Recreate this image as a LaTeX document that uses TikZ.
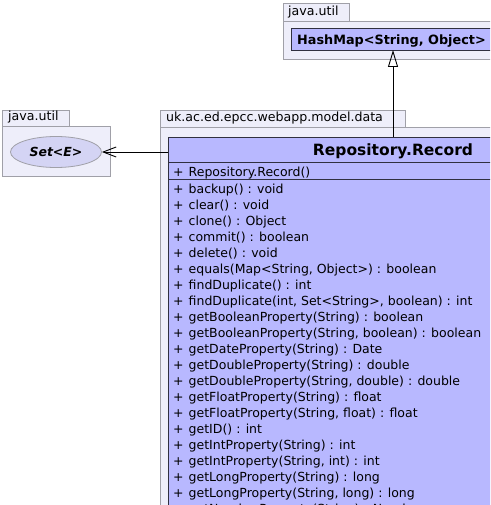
\documentclass[tikz,border=0pt]{standalone}
\usepackage{fontspec}
\setmainfont{DejaVu Sans}
\usetikzlibrary{arrows.meta,shapes.geometric}
\definecolor{pkgfill}{HTML}{EEEEFA}
\definecolor{pkgdraw}{HTML}{A0A0A8}
\definecolor{clsfill}{HTML}{B8B8FF}
\definecolor{clsdraw}{HTML}{303040}
\definecolor{ellfill}{HTML}{D4D4F4}
\tikzset{
  pkg/.style={fill=pkgfill,draw=pkgdraw,line width=0.8pt},
  cls/.style={fill=clsfill,draw=clsdraw,line width=0.8pt},
  pkglabel/.style={anchor=base west,inner sep=0pt,font=\fontsize{12.6}{15}\selectfont},
  member/.style={anchor=base west,inner sep=0pt,font=\fontsize{12.5}{15}\selectfont},
  conn/.style={line width=0.9pt,draw=black}
}
\newcommand{\mbr}[1]{\makebox[15.5pt][l]{+}#1}
\begin{document}
\begin{tikzpicture}[x=1pt,y=-1pt]
\useasboundingbox (0,0) rectangle (490,505);
\clip (0,0) rectangle (490,505);
\fill[white] (0,0) rectangle (490,505);
% top package java.util
\draw[pkg] (283,3) rectangle (349,21);
\draw[pkg] (283,21) rectangle (520,59);
\node[pkglabel] (tabA) at (288,16) {java.util};
\draw[cls] (291,28) rectangle (520,50);
\node[anchor=base west,inner sep=0pt,font=\bfseries\fontsize{12.8}{15}\selectfont] (hashmap) at (297,45) {HashMap<String, Object>};
\coordinate (hmb) at (393,50);
% left package java.util
\draw[pkg] (2,110) rectangle (69,126);
\draw[pkg] (2,126) rectangle (110,176);
\node[pkglabel] (tabB) at (8,121) {java.util};
\node[ellipse,draw=pkgdraw,fill=ellfill,line width=0.8pt,minimum width=91pt,minimum height=31pt,inner sep=0pt,font=\bfseries\itshape\fontsize{12.5}{14}\selectfont] (set) at (56,152) {Set<E>};
% main package
\draw[pkg] (160,110) rectangle (405,127);
\draw[pkg] (160,127) rectangle (520,520);
\node[pkglabel] (tabC) at (166,122) {uk.ac.ed.epcc.webapp.model.data};
% Record class
\draw[cls] (168,137) rectangle (620,530);
\draw[clsdraw,line width=0.8pt] (168,162) -- (620,162);
\draw[clsdraw,line width=0.8pt] (168,179) -- (620,179);
\node[anchor=base,inner sep=0pt,font=\bfseries\fontsize{15.5}{17}\selectfont] (record) at (393,155) {Repository.Record};
\coordinate (rtop) at (393,137);
\coordinate (rleft) at (168,152);
\node[member] (m0) at (173,176) {\mbr{Repository.Record()}};
\foreach \t [count=\i from 0] in {
 backup() : void,
 clear() : void,
 clone() : Object,
 commit() : boolean,
 delete() : void,
 {equals(Map<String, Object>) : boolean},
 findDuplicate() : int,
 {findDuplicate(int, Set<String>, boolean) : int},
 getBooleanProperty(String) : boolean,
 {getBooleanProperty(String, boolean) : boolean},
 getDateProperty(String) : Date,
 getDoubleProperty(String) : double,
 {getDoubleProperty(String, double) : double},
 getFloatProperty(String) : float,
 {getFloatProperty(String, float) : float},
 getID() : int,
 getIntProperty(String) : int,
 {getIntProperty(String, int) : int},
 getLongProperty(String) : long,
 {getLongProperty(String, long) : long},
 getNumberProperty(String) : Number}
 {\node[member] (m\i x) at (173,193+16*\i) {\mbr{\t}};}
% connectors
\draw[conn,-{Triangle[open,width=10pt,length=17pt]}] (rtop) -- (hmb);
\draw[conn,-{Straight Barb[width=10pt,length=13pt]}] (rleft) -- (set.east);
\end{tikzpicture}
\end{document}
